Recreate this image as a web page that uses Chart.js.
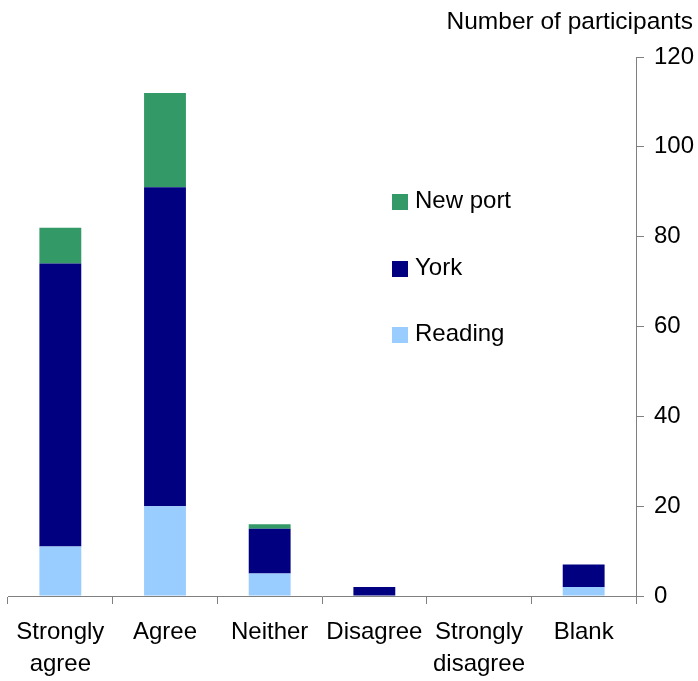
<!DOCTYPE html>
<html>
<head>
<meta charset="utf-8">
<script src="https://cdn.jsdelivr.net/npm/chart.js@4"></script>
<style>
  html, body { margin: 0; padding: 0; background: #fff; }
  #wrap { width: 698px; height: 681px; }
</style>
</head>
<body>
<div id="wrap"><canvas id="grafico" width="698" height="681"></canvas></div>
<script>
const categorias = [['Strongly', 'agree'], 'Agree', 'Neither', 'Disagree', ['Strongly', 'disagree'], 'Blank'];
const reading = [11, 20, 5, 0, 0, 2];
const york = [63, 71, 10, 2, 0, 5];
const newport = [8, 21, 1, 0, 0, 0];
const yTicks = [0, 20, 40, 60, 80, 100, 120];

const fonte = "'Liberation Sans', Arial, sans-serif";

// legenda desenhada dentro da area do grafico
const legendaInterna = {
  id: 'legendaInterna',
  afterDraw(chart) {
    const ctx = chart.ctx;
    ctx.save();
    ctx.font = '24px ' + fonte;
    ctx.textBaseline = 'middle';
    ctx.textAlign = 'left';
    const itens = [
      { nome: 'New port', cor: '#339966', y: 201 },
      { nome: 'York', cor: '#000080', y: 268 },
      { nome: 'Reading', cor: '#99ccff', y: 334 }
    ];
    itens.forEach(it => {
      ctx.fillStyle = it.cor;
      ctx.fillRect(392, it.y - 7, 16, 16);
      ctx.fillStyle = '#000';
      ctx.fillText(it.nome, 415, it.y);
    });
    // titulo do eixo
    ctx.textAlign = 'right';
    ctx.font = '24.5px ' + fonte;
    ctx.fillText('Number of participants', 693, 22);
    ctx.restore();
  }
};

new Chart(document.getElementById('grafico').getContext('2d'), {
  type: 'bar',
  data: {
    labels: categorias,
    datasets: [
      { label: 'Reading', data: reading, backgroundColor: '#99ccff' },
      { label: 'York', data: york, backgroundColor: '#000080' },
      { label: 'New port', data: newport, backgroundColor: '#339966' }
    ]
  },
  options: {
    responsive: false,
    animation: false,
    layout: { padding: { left: 8, top: 57, right: 0, bottom: 0 } },
    datasets: { bar: { categoryPercentage: 1, barPercentage: 0.4 } },
    plugins: {
      legend: { display: false },
      tooltip: { enabled: false }
    },
    scales: {
      x: {
        stacked: true,
        offset: true,
        grid: { offset: true, drawOnChartArea: false, tickLength: 8, color: '#808080' },
        border: { color: '#808080' },
        ticks: {
          color: '#000',
          font: { family: fonte, size: 24, lineHeight: 1.33 },
          padding: 12,
          maxRotation: 0,
          autoSkip: false
        },
        afterFit(scale) { scale.height = 85; }
      },
      y: {
        stacked: true,
        position: 'right',
        min: 0,
        max: 120,
        afterBuildTicks(scale) { scale.ticks = yTicks.map(v => ({ value: v })); },
        grid: { drawOnChartArea: false, tickLength: 8, color: '#808080' },
        border: { color: '#808080' },
        ticks: {
          color: '#000',
          font: { family: fonte, size: 24 },
          padding: 10
        },
        afterFit(scale) { scale.width = 62; }
      }
    }
  },
  plugins: [legendaInterna]
});
</script>
</body>
</html>
